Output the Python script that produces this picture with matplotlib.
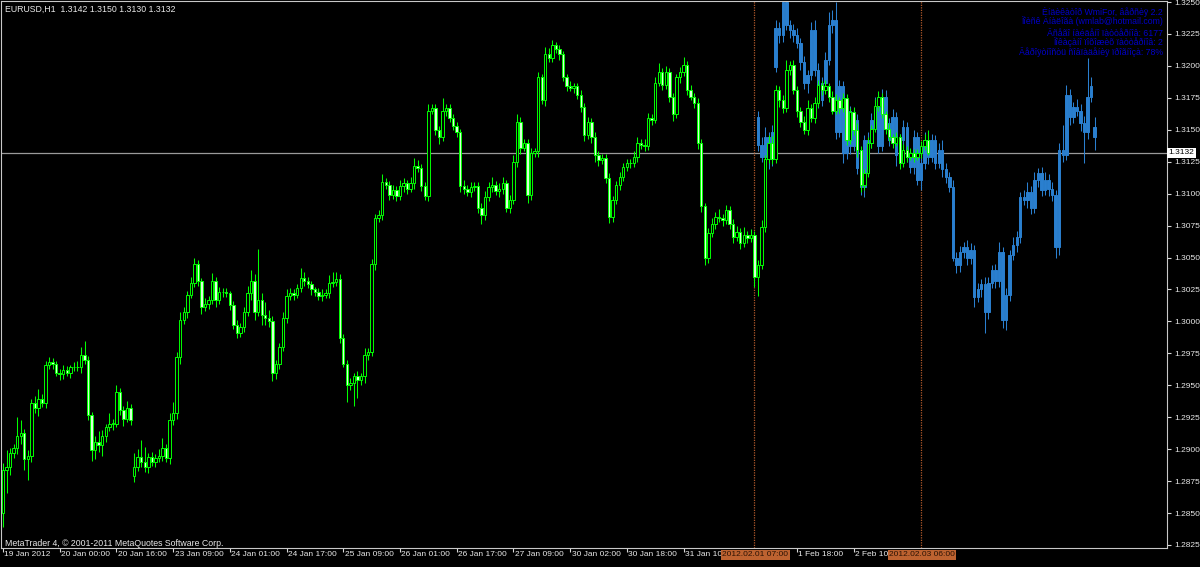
import matplotlib
matplotlib.use("Agg")
import matplotlib.pyplot as plt
import matplotlib.transforms as mtransforms
import numpy as np

FONT = ["Liberation Sans", "DejaVu Sans"]
BASE = 1.2800
PIP = 0.0001

# EURUSD H1 closes, in pips above 1.2800
green_first_open = 50
green_gaps = {37: 79}          # weekend gap: bar index -> open
green_close = [
    84, 86, 97, 101, 110, 113, 92, 95, 136, 132,
    139, 136, 166, 168, 167, 160, 159, 162, 160, 164,
    164, 164, 174, 170, 127, 99, 106, 103, 110, 117,
    120, 120, 145, 131, 124, 132, 123, 86, 94, 90,
    86, 94, 90, 93, 95, 101, 93, 123, 128, 172,
    201, 207, 221, 230, 245, 232, 211, 214, 217, 232,
    217, 223, 223, 222, 213, 197, 191, 196, 207, 222,
    232, 207, 217, 205, 203, 200, 160, 167, 180, 203,
    220, 222, 221, 226, 234, 232, 229, 225, 223, 220,
    221, 222, 230, 231, 233, 187, 167, 150, 152, 157,
    154, 157, 174, 176, 245, 281, 283, 309, 307, 299,
    303, 298, 306, 308, 304, 308, 322, 320, 306, 298,
    365, 367, 350, 344, 365, 367, 359, 353, 348, 306,
    304, 301, 305, 306, 289, 283, 297, 305, 307, 302,
    304, 308, 289, 295, 325, 356, 336, 340, 299, 332,
    333, 391, 373, 409, 406, 416, 413, 409, 391, 384,
    383, 384, 377, 368, 346, 356, 344, 330, 326, 328,
    312, 282, 295, 307, 313, 321, 324, 324, 329, 340,
    338, 337, 359, 358, 387, 395, 385, 395, 376, 362,
    391, 395, 401, 381, 376, 371, 340, 290, 250, 269,
    276, 282, 281, 279, 287, 276, 266, 270, 261, 268,
    265, 268, 235, 244, 274, 327, 340, 327, 381, 373,
    367, 397, 401, 381, 365, 356, 350, 367, 359, 371,
    385, 381, 384, 376, 365, 373, 367, 375, 342, 364,
    350, 334, 307, 316, 340, 351, 369, 376, 362, 351,
    344, 340, 344, 324, 334, 329, 332, 329, 332, 337,
    342, 332,
]
green_up = [
    5, 13, 4, 3, 15, 10, 3, 4, 3, 6,
    8, 4, 3, 4, 3, 2, 3, 4, 3, 2,
    4, 5, 6, 11, 3, 2, 4, 8, 5, 3,
    8, 4, 5, 3, 3, 6, 3, 11, 6, 13,
    12, 3, 4, 3, 5, 8, 3, 5, 9, 4,
    6, 4, 3, 5, 5, 3, 2, 4, 3, 6,
    3, 4, 3, 3, 2, 3, 4, 3, 4, 6,
    8, 5, 40, 5, 10, 6, 4, 3, 3, 4,
    5, 4, 3, 3, 8, 5, 3, 3, 2, 3,
    4, 3, 6, 8, 6, 4, 3, 3, 4, 3,
    4, 3, 5, 3, 4, 3, 4, 6, 3, 3,
    4, 3, 5, 4, 3, 5, 6, 4, 3, 3,
    5, 3, 3, 3, 10, 3, 3, 3, 3, 3,
    5, 3, 4, 3, 3, 4, 5, 4, 6, 3,
    4, 5, 3, 4, 5, 6, 4, 3, 3, 4,
    3, 4, 3, 6, 5, 4, 3, 3, 3, 3,
    4, 3, 3, 4, 3, 4, 3, 4, 3, 3,
    3, 4, 3, 3, 4, 3, 3, 3, 4, 4,
    3, 5, 4, 3, 4, 7, 3, 5, 3, 3,
    3, 4, 6, 3, 4, 3, 4, 3, 3, 4,
    5, 4, 6, 3, 4, 3, 4, 5, 3, 6,
    3, 4, 3, 4, 5, 3, 6, 5, 4, 3,
    4, 8, 3, 4, 3, 3, 5, 6, 3, 5,
    4, 3, 5, 3, 4, 5, 3, 4, 3, 3,
    4, 5, 3, 3, 4, 3, 5, 4, 3, 3,
    4, 3, 4, 3, 5, 3, 4, 3, 3, 4,
    5, 8,
]
green_dn = [
    11, 18, 6, 4, 5, 6, 8, 16, 5, 4,
    6, 3, 4, 3, 4, 3, 5, 4, 3, 4,
    3, 3, 4, 3, 4, 8, 7, 5, 8, 4,
    3, 5, 3, 4, 6, 3, 4, 5, 3, 4,
    4, 5, 3, 4, 3, 4, 3, 5, 4, 4,
    5, 3, 4, 3, 3, 4, 5, 3, 4, 3,
    6, 3, 4, 3, 4, 3, 4, 3, 4, 3,
    5, 6, 3, 8, 6, 4, 7, 5, 4, 3,
    4, 3, 4, 3, 3, 4, 3, 4, 3, 3,
    4, 3, 4, 3, 3, 4, 3, 13, 4, 18,
    14, 4, 5, 4, 3, 5, 3, 4, 3, 4,
    3, 4, 3, 5, 4, 3, 4, 3, 4, 3,
    4, 3, 4, 5, 3, 4, 3, 3, 4, 5,
    4, 3, 4, 3, 4, 7, 4, 3, 4, 3,
    5, 4, 3, 4, 3, 4, 5, 3, 6, 4,
    3, 4, 3, 4, 3, 3, 3, 4, 3, 4,
    3, 4, 3, 4, 5, 3, 4, 5, 4, 3,
    4, 5, 4, 3, 4, 3, 3, 4, 3, 4,
    3, 4, 3, 4, 3, 3, 4, 3, 4, 5,
    3, 4, 3, 4, 3, 4, 5, 4, 6, 4,
    3, 4, 3, 4, 3, 4, 5, 3, 4, 3,
    4, 3, 8, 15, 3, 4, 3, 4, 3, 5,
    4, 3, 4, 3, 5, 4, 3, 4, 3, 4,
    3, 4, 3, 4, 3, 3, 4, 3, 4, 3,
    4, 5, 6, 4, 3, 4, 3, 4, 3, 4,
    3, 4, 3, 5, 3, 4, 3, 4, 3, 4,
    3, 2,
]

# matched pattern drawn over the chart (blue), starts at bar 213
blue_start = 213
blue_first_open = 360
blue_gaps = {5: 399, 95: 352}
blue_close = [
    338, 329, 344, 327, 348, 430, 424, 450, 432, 428,
    424, 418, 403, 387, 393, 428, 397, 373, 387, 405,
    432, 436, 348, 384, 332, 365, 337, 358, 320, 305,
    342, 340, 358, 368, 337, 376, 355, 342, 360, 330,
    342, 352, 329, 321, 344, 311, 324, 342, 329, 342,
    324, 334, 319, 313, 305, 250, 244, 254, 258, 250,
    256, 219, 225, 229, 207, 230, 240, 232, 254, 201,
    221, 252, 260, 266, 297, 295, 301, 289, 311, 316,
    303, 311, 304, 299, 258, 334, 330, 377, 360, 368,
    365, 355, 348, 376, 384, 344,
]
blue_up = [
    5, 6, 8, 4, 6, 6, 4, 3, 6, 4,
    5, 6, 4, 5, 4, 6, 8, 5, 4, 6,
    10, 8, 14, 5, 4, 6, 4, 5, 4, 6,
    4, 6, 5, 8, 4, 6, 5, 4, 6, 4,
    5, 6, 4, 5, 6, 4, 5, 6, 4, 5,
    4, 6, 8, 5, 4, 6, 4, 5, 4, 6,
    5, 4, 5, 4, 6, 5, 4, 5, 8, 4,
    5, 4, 6, 5, 4, 6, 8, 5, 6, 4,
    5, 6, 4, 5, 4, 6, 20, 8, 5, 4,
    6, 5, 6, 30, 7, 8,
]
blue_dn = [
    5, 4, 6, 8, 5, 4, 6, 5, 4, 6,
    5, 4, 6, 5, 8, 4, 5, 6, 4, 5,
    4, 6, 5, 4, 8, 5, 6, 4, 5, 6,
    8, 5, 4, 6, 5, 4, 6, 5, 4, 8,
    5, 6, 4, 5, 6, 4, 8, 5, 6, 4,
    5, 4, 6, 5, 4, 3, 6, 5, 4, 6,
    5, 8, 4, 6, 16, 5, 4, 6, 5, 6,
    8, 5, 4, 6, 5, 4, 6, 5, 4, 6,
    5, 4, 6, 5, 8, 6, 5, 4, 6, 5,
    4, 6, 24, 5, 4, 10,
]

time_label_idx = [0, 16, 32, 48, 64, 80, 96, 112, 128, 144, 160, 176, 192, 224, 240]
time_labels = ["19 Jan 2012", "20 Jan 00:00", "20 Jan 16:00", "23 Jan 09:00",
               "24 Jan 01:00", "24 Jan 17:00", "25 Jan 09:00", "26 Jan 01:00",
               "26 Jan 17:00", "27 Jan 09:00", "30 Jan 02:00", "30 Jan 18:00",
               "31 Jan 10:", "1 Feb 18:00", "2 Feb 10:"]
vline_idx = [212, 259]
vline_labels = ["2012.02.01 07:00", "2012.02.03 06:00"]
bid_price = 1.3132
price_ticks = np.arange(1.2825, 1.32501, 0.0025)

info_lines = [
    "Èíäèêàòîð WmiFor, âåðñèÿ 2.2",
    "Ïîèñê Àíàëîãà (wmlab@hotmail.com)",
    "Âñåãî íàéäåíî ïàòòåðíîâ: 6177",
    "Ïîêàçàíî ïîõîæèõ ïàòòåðíîâ: 2",
    "Âåðîÿòíîñòü ñîâïàäåíèÿ ïðîãíîçà: 78%",
]


def build_ohlc(closes, first_open, gaps, up, dn):
    c = np.array(closes, dtype=float)
    o = np.empty_like(c)
    o[0] = first_open
    o[1:] = c[:-1]
    for k, v in gaps.items():
        o[k] = v
    h = np.maximum(o, c) + np.array(up)
    l = np.minimum(o, c) - np.array(dn)
    conv = lambda a: BASE + a * PIP
    return conv(o), conv(h), conv(l), conv(c)


def draw_candles(ax, x, o, h, l, c, edge, bull_face, bear_face, z):
    ax.vlines(x, l, h, color=edge, lw=0.75, zorder=z)
    bottoms = np.minimum(o, c)
    heights = np.maximum(np.abs(c - o), 0.00002)
    faces = [bull_face if cc >= oo else bear_face for oo, cc in zip(o, c)]
    ax.bar(x, heights, width=0.68, bottom=bottoms, color=faces,
           edgecolor=edge, linewidth=0.7, zorder=z + 0.1)


fig = plt.figure(figsize=(12, 5.67), dpi=100, facecolor="black")
ax = fig.add_axes([1 / 1200, 19 / 567, 1166 / 1200, 547 / 567])
ax.set_facecolor("black")

go, gh, gl, gc = build_ohlc(green_close, green_first_open, green_gaps, green_up, green_dn)
bo, bh, bl, bc = build_ohlc(blue_close, blue_first_open, blue_gaps, blue_up, blue_dn)
gx = np.arange(len(gc))
bx = np.arange(len(bc)) + blue_start

ax.axhline(bid_price, color="#9a9a9a", lw=0.9, zorder=1)
for vi in vline_idx:
    ax.axvline(vi, color="#b0582a", lw=0.9, ls=(0, (1, 1)), zorder=1.2)

draw_candles(ax, bx, bo, bh, bl, bc, "#2a7fcf", "#2a7fcf", "#2a7fcf", 2)
draw_candles(ax, gx, go, gh, gl, gc, "#00ff00", "black", "#d8ffd8", 3)

ax.set_xlim(-0.56, 328.4)
ax.set_ylim(1.282264, 1.32508)

for sp in ax.spines.values():
    sp.set_color("#c8c8c8")
    sp.set_linewidth(0.8)

ax.yaxis.tick_right()
ax.set_yticks(price_ticks)
ax.set_yticklabels(["%.4f" % p for p in price_ticks])
ax.tick_params(axis="y", colors="#d8d8d8", length=3, width=0.8, pad=2,
               labelsize=6, labelcolor="#e8e8e8")
ax.set_xticks(time_label_idx)
ax.set_xticklabels([])
ax.tick_params(axis="x", colors="#d8d8d8", length=3, width=0.8)
for lab in ax.get_yticklabels():
    lab.set_family(FONT)

trans = mtransforms.blended_transform_factory(ax.transData, ax.transAxes)
for idx, lab in zip(time_label_idx, time_labels):
    ax.text(idx + 0.4, -0.006, lab, transform=trans, ha="left", va="top",
            color="#e8e8e8", fontsize=6, family=FONT, clip_on=False, zorder=5)
for idx, lab in zip(vline_idx, vline_labels):
    ax.text(idx + 0.3, -0.006, lab, transform=trans, ha="center", va="top",
            color="#2b1204", fontsize=6, family=FONT, clip_on=False, zorder=10,
            bbox=dict(boxstyle="square,pad=0.15", facecolor="#bd6230", edgecolor="none"))

ptrans = mtransforms.blended_transform_factory(ax.transAxes, ax.transData)
ax.text(1.0015, bid_price, "%.4f" % bid_price, transform=ptrans, ha="left", va="center",
        color="black", fontsize=6, family=FONT, clip_on=False, zorder=10,
        bbox=dict(boxstyle="square,pad=0.2", facecolor="white", edgecolor="none"))

fig.text(5 / 1200, 1 - 9 / 567, "EURUSD,H1  1.3142 1.3150 1.3130 1.3132",
         color="#e8e8e8", fontsize=6.3, family=FONT, va="center", ha="left")
fig.text(5 / 1200, 1 - 544 / 567, "MetaTrader 4, © 2001-2011 MetaQuotes Software Corp.",
         color="#e8e8e8", fontsize=6.3, family=FONT, va="center", ha="left")

info_y = [12, 21, 33, 42, 52]
for yy, line in zip(info_y, info_lines):
    fig.text(1163 / 1200, 1 - yy / 567, line, color="#0000c8", fontsize=6.3,
             family=FONT, va="center", ha="right")

fig.savefig("out.png", dpi=100, facecolor="black")
